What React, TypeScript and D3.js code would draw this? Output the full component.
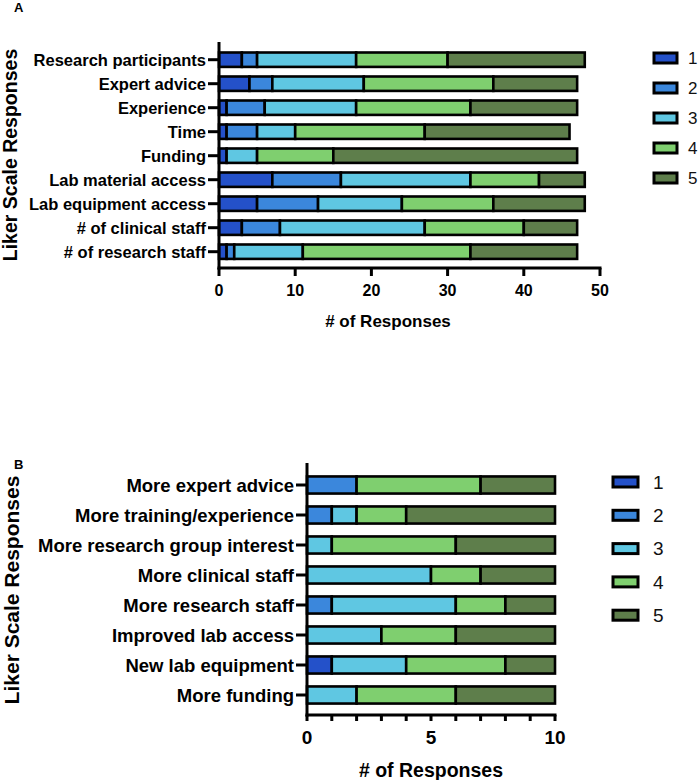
import { useRef, useEffect } from 'react';
import * as d3 from 'd3';

const LEVELS = ['1', '2', '3', '4', '5'];
const COLORS = ['#2451c9', '#3b87dc', '#5fc7e2', '#7fcf6f', '#5e7e4b'];

// Panel A: barriers
const barriers = [
  'Research participants',
  'Expert advice',
  'Experience',
  'Time',
  'Funding',
  'Lab material access',
  'Lab equipment access',
  '# of clinical staff',
  '# of research staff',
];
const barrierScore1 = [3, 4, 1, 1, 1, 7, 5, 3, 1];
const barrierScore2 = [2, 3, 5, 4, 0, 9, 8, 5, 1];
const barrierScore3 = [13, 12, 12, 5, 4, 17, 11, 19, 9];
const barrierScore4 = [12, 17, 15, 17, 10, 9, 12, 13, 22];
const barrierScore5 = [18, 11, 14, 19, 32, 6, 12, 7, 14];
const barrierTicks = [0, 10, 20, 30, 40, 50];

// Panel B: needs
const needs = [
  'More expert advice',
  'More training/experience',
  'More research group interest',
  'More clinical staff',
  'More research staff',
  'Improved lab access',
  'New lab equipment',
  'More funding',
];
const needScore1 = [0, 0, 0, 0, 0, 0, 1, 0];
const needScore2 = [2, 1, 0, 0, 1, 0, 0, 0];
const needScore3 = [0, 1, 1, 5, 5, 3, 3, 2];
const needScore4 = [5, 2, 5, 2, 2, 3, 4, 4];
const needScore5 = [3, 6, 4, 3, 2, 4, 2, 4];
const needTicks = d3.range(0, 11);
const needTickLabels = [0, 5, 10];

const FONT = 'Arial, "Liberation Sans", Helvetica, sans-serif';

interface PanelCfg {
  letter: string;
  letterY: number;
  cats: string[];
  series: number[][];
  xMax: number;
  xRange: [number, number];
  yRange: [number, number];
  padding: number;
  axisTop: number;
  axisY: number;
  ticks: number[];
  tickLabels: number[];
  tickLen: number;
  tickFont: number;
  labelFont: number;
  titleFont: number;
  titleX: number;
  titleY: number;
  yTitleFont: number;
  yTitleY: number;
  yTitleX: number;
  legendX: number;
  legendW: number;
  legendY0: number;
  legendStep: number;
  legendFont: number;
  legendTextX: number;
}

function drawPanel(svg: d3.Selection<SVGSVGElement, unknown, null, undefined>, c: PanelCfg) {
  const g = svg.append('g');
  const x = d3.scaleLinear().domain([0, c.xMax]).range(c.xRange);
  const y = d3
    .scaleBand<string>()
    .domain(c.cats)
    .range(c.yRange)
    .paddingInner(c.padding)
    .paddingOuter(c.padding / 2);

  const rows = c.cats.map((name, i) => {
    const r: Record<string, number | string> = { name };
    LEVELS.forEach((l, k) => (r[l] = c.series[k][i]));
    return r;
  });
  const stacked = d3.stack<Record<string, number | string>>().keys(LEVELS)(rows as any);

  // bars
  stacked.forEach((layer, k) => {
    layer.forEach((d, i) => {
      if (d[1] - d[0] <= 0) return;
      g.append('rect')
        .attr('x', x(d[0]))
        .attr('y', y(c.cats[i])!)
        .attr('width', x(d[1]) - x(d[0]))
        .attr('height', y.bandwidth())
        .attr('fill', COLORS[k])
        .attr('stroke', '#000')
        .attr('stroke-width', 2.6);
    });
  });

  // axes
  const x0 = c.xRange[0];
  g.append('line')
    .attr('x1', x0).attr('x2', x0)
    .attr('y1', c.axisTop).attr('y2', c.axisY + 1.5)
    .attr('stroke', '#000').attr('stroke-width', 3);
  g.append('line')
    .attr('x1', x0 - 1.5).attr('x2', c.xRange[1] + 1.5)
    .attr('y1', c.axisY).attr('y2', c.axisY)
    .attr('stroke', '#000').attr('stroke-width', 3);

  c.ticks.forEach((t) => {
    g.append('line')
      .attr('x1', x(t)).attr('x2', x(t))
      .attr('y1', c.axisY).attr('y2', c.axisY + c.tickLen)
      .attr('stroke', '#000').attr('stroke-width', 3);
  });
  c.tickLabels.forEach((t) => {
    g.append('text')
      .attr('x', x(t))
      .attr('y', c.axisY + c.tickLen + c.tickFont + 4)
      .attr('text-anchor', 'middle')
      .attr('font-family', FONT)
      .attr('font-weight', 700)
      .attr('font-size', c.tickFont)
      .text(t);
  });

  c.cats.forEach((name) => {
    const cy = y(name)! + y.bandwidth() / 2;
    g.append('line')
      .attr('x1', x0 - 11).attr('x2', x0)
      .attr('y1', cy).attr('y2', cy)
      .attr('stroke', '#000').attr('stroke-width', 3);
    g.append('text')
      .attr('x', x0 - 13)
      .attr('y', cy)
      .attr('dy', '0.36em')
      .attr('text-anchor', 'end')
      .attr('font-family', FONT)
      .attr('font-weight', 700)
      .attr('font-size', c.labelFont)
      .text(name);
  });

  // titles
  g.append('text')
    .attr('x', c.titleX)
    .attr('y', c.titleY)
    .attr('text-anchor', 'middle')
    .attr('font-family', FONT)
    .attr('font-weight', 700)
    .attr('font-size', c.titleFont)
    .text('# of Responses');
  g.append('text')
    .attr('transform', `translate(${c.yTitleX},${c.yTitleY}) rotate(-90)`)
    .attr('text-anchor', 'middle')
    .attr('font-family', FONT)
    .attr('font-weight', 700)
    .attr('font-size', c.yTitleFont)
    .text('Liker Scale Responses');
  g.append('text')
    .attr('x', 14)
    .attr('y', c.letterY)
    .attr('font-family', FONT)
    .attr('font-weight', 700)
    .attr('font-size', 13)
    .text(c.letter);

  // legend
  LEVELS.forEach((l, k) => {
    const cy = c.legendY0 + k * c.legendStep;
    g.append('rect')
      .attr('x', c.legendX)
      .attr('y', cy - 5)
      .attr('width', c.legendW)
      .attr('height', 10)
      .attr('fill', COLORS[k])
      .attr('stroke', '#000')
      .attr('stroke-width', 3);
    g.append('text')
      .attr('x', c.legendTextX)
      .attr('y', cy)
      .attr('dy', '0.36em')
      .attr('font-family', FONT)
      .attr('font-size', c.legendFont)
      .attr('fill', '#111')
      .text(l);
  });
}

export default function App() {
  const svgRef = useRef<SVGSVGElement>(null);

  useEffect(() => {
    document.body.style.margin = '0';
    const svg = d3.select(svgRef.current!);
    svg.selectAll('*').remove();
    svg.append('rect').attr('width', 700).attr('height', 780).attr('fill', '#fff');

    drawPanel(svg, {
      letter: 'A',
      letterY: 12,
      cats: barriers,
      series: [barrierScore1, barrierScore2, barrierScore3, barrierScore4, barrierScore5],
      xMax: 50,
      xRange: [219, 600],
      yRange: [47.7, 263.7],
      padding: 0.4,
      axisTop: 42,
      axisY: 268,
      ticks: barrierTicks,
      tickLabels: barrierTicks,
      tickLen: 8,
      tickFont: 16,
      labelFont: 16.5,
      titleFont: 17,
      titleX: 388,
      titleY: 327,
      yTitleFont: 19.5,
      yTitleY: 155,
      yTitleX: 17,
      legendX: 654,
      legendW: 23,
      legendY0: 58,
      legendStep: 30,
      legendFont: 17,
      legendTextX: 688,
    });

    drawPanel(svg, {
      letter: 'B',
      letterY: 469,
      cats: needs,
      series: [needScore1, needScore2, needScore3, needScore4, needScore5],
      xMax: 10,
      xRange: [307, 555],
      yRange: [470, 710],
      padding: 0.43,
      axisTop: 463,
      axisY: 715,
      ticks: needTicks,
      tickLabels: needTickLabels,
      tickLen: 6,
      tickFont: 19,
      labelFont: 18.5,
      titleFont: 19.5,
      titleX: 431,
      titleY: 777,
      yTitleFont: 21,
      yTitleY: 590,
      yTitleX: 19,
      legendX: 613,
      legendW: 25,
      legendY0: 482,
      legendStep: 33.3,
      legendFont: 19,
      legendTextX: 653,
    });
  }, []);

  return <svg ref={svgRef} width={700} height={780} style={{ display: 'block' }} />;
}
